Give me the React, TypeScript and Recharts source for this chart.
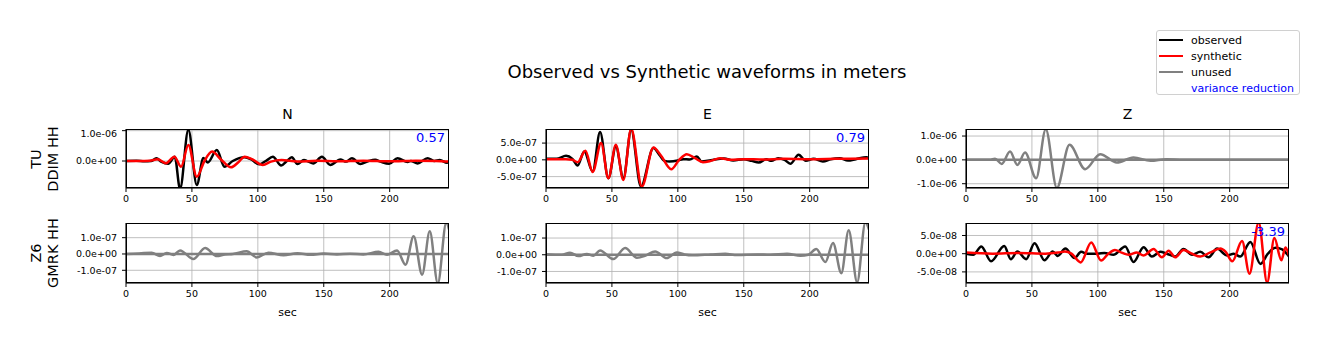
import React from 'react';
import { LineChart, Line, XAxis, YAxis, CartesianGrid } from 'recharts';

type Pt = [number, number];

// all amplitudes in units of 1e-8 m, time in sec
const X_TICKS = [0, 50, 100, 150, 200];
const COMPONENTS = ['N', 'E', 'Z'];
const STATIONS = ['TU\nDDIM HH', 'Z6\nGMRK HH'];

const tuN_obs: Pt[] = [
  [0, 0], [8, 0.5], [14, -1], [19, 0], [23, 9], [27, -3], [32, -9], [37, 14], [41, -92],
  [47.3, 103], [53.7, -79], [58.7, 10], [62, -5], [68.9, 36], [74.7, -19], [81, 0], [90, 12],
  [95, 5], [101, -11], [106, 0], [111.4, 14], [117.7, -15], [122, 0], [125.8, 12], [130, -10],
  [135, 3], [142, -8], [148.6, 14], [155, -13], [162.6, 5], [167, -2], [171.4, 9], [177.7, -10],
  [184, 0], [189, 4], [193, -2], [199.6, -9], [206, 9], [213.6, -3], [216, 0], [221.2, -8],
  [228.8, 9], [234, 0], [238, 3], [243.5, -6], [245, -4],
];
const tuN_syn: Pt[] = [
  [0, 0], [10, 0], [18, 1], [24, 6], [30.4, -7], [36.7, 14], [41.8, -19], [47.3, 53], [53.7, -52],
  [59.5, 0], [65.3, 31], [72, 5], [79.7, -21], [85, -5], [90, 14], [96, 5], [103.8, -13], [110, -2],
  [118, 3], [130, -2], [145, 1], [160, -1], [180, 1], [200, -1], [220, 1], [235, 0], [245, -2],
];
const tuE_obs: Pt[] = [
  [0, 3], [8, 3], [15.2, 12], [20, 3], [24, -17], [29, 25], [35.4, -35], [41, 83], [47.3, -55],
  [53, 40], [58.7, -55], [64.6, 90], [72, -80], [81.5, 35], [86, 15], [90, -3], [93.7, -5],
  [100, -2], [104, 2], [109, 1], [114.4, 10], [118, -5], [125, -1], [135, 4], [142, -2], [150, 2],
  [156, -3], [161.4, -8], [167, 2], [171, -3], [176, 5], [181, 0], [185.3, -12], [191.6, 15],
  [197, -3], [203, 3], [210, -5], [216, 2], [222.8, 5], [229, -2], [235, 2], [243, 8], [245, 6],
];
const tuE_syn: Pt[] = [
  [0, 2], [15, 2], [20, 0], [24, -7], [29.9, 27], [35.4, -36], [41.8, 50], [47.3, -55], [53, 45],
  [58.7, -60], [64.6, 93], [72.7, -80], [81.5, 37], [87.3, 12], [95, -28], [101, 0], [106.8, 17],
  [113, 5], [119, -7], [125, -3], [132, 5], [140, 0], [150, 2], [165, 1], [180, 3], [200, 2],
  [220, 3], [245, 4],
];
const tuZ_unused: Pt[] = [
  [0, 0], [18.2, 0], [22, 5], [27.1, -17], [33.4, 35], [39, -21], [44.8, 31], [53.2, -77],
  [60.5, 128], [68.9, -117], [78.5, 63], [90.4, -39], [101.8, 24], [114.4, -11], [127, 10],
  [140, -4], [152, 3], [165, 0], [180, 1], [200, 0], [245, 0],
];
const z6N_unused: Pt[] = [
  [0, 0], [10, 0.3], [19.5, 0.8], [25.8, -1.2], [30.9, 0.6], [36, -0.6], [41, 2.2], [51.1, -3.1],
  [60, 3.7], [68.9, -1.3], [75, -0.3], [81, 0], [91.6, 1.6], [99.2, -2.1], [108, 0.8],
  [119.5, -0.8], [130, 0.5], [140, -0.5], [150, 0.3], [160, -0.3], [170, 0.2], [180, -0.3],
  [191.6, 1.4], [198, -0.5], [205.6, 2.2], [212, -6.6], [218.2, 10.8], [224.6, -12.7],
  [230.4, 13.9], [236.5, -18], [243, 19.5], [245, 15],
];
const z6E_unused: Pt[] = [
  [0, 0.3], [12, 0], [18.2, 1.2], [24.6, -0.8], [31, 0.5], [36, -0.6], [41, 2.6], [51.1, -2.6],
  [60, 4], [69, -1.8], [75.5, -0.5], [82.8, 2], [91.6, -2], [99.2, 1.4], [105, 0.2], [111, -0.3],
  [125, 0.2], [136, 0.6], [145, -0.2], [160, 0.2], [170, 0], [182.8, 0.6], [193, -0.6], [199, 0],
  [205, 3.4], [211.9, -4.4], [217.7, 7], [224, -11], [229.6, 14.6], [236, -16.4], [242.3, 19.5],
  [245, 15],
];
const z6Z_obs: Pt[] = [
  [0, 0], [5.6, -0.3], [11.6, 2], [19, -2.1], [29, 2.1], [34, -1.5], [39, 0.6], [45.6, -1.5],
  [52, 2.9], [59.5, -1.8], [65.8, 0.6], [69.6, -0.6], [75.4, 1.4], [82.3, -1.2], [87.3, 0.5],
  [92, 0], [100, 0], [105, 0.2], [111.9, -0.3], [120.8, 2], [127.1, -2.3], [134.7, 1.8],
  [141, -0.8], [147.3, 0.5], [152.3, 0], [158.7, -0.8], [165, 1.3], [171.4, -0.3], [177.7, 0.5],
  [184, -1], [190.4, 1.4], [198, -0.5], [203, 0], [208, -0.8], [215.7, 3.2], [223.3, -2.8],
  [229, 0], [234.7, 1.6], [239.8, 1.2], [245, -0.8],
];
const z6Z_syn: Pt[] = [
  [0, 0.3], [20, 0], [40, 0.2], [60, 0], [70, 0.3], [75, 0.6], [80, 0], [87, -2.4], [95, 3.1],
  [102.5, -1.9], [108, 0], [113, 1], [118, 0.3], [123.3, -0.3], [129.6, 0.3], [134.7, -0.5],
  [142.3, 1.3], [148.6, -1], [153.7, 0.8], [158.7, -1], [165, 1], [171.4, 0], [177.7, -0.8],
  [185, 0.3], [192.9, 1.4], [197, 0.5], [202, -2.1], [209.4, 3.5], [215, -5.5], [222, 8.6],
  [228.4, -7.9], [233.9, 4.3], [239.2, -1.8], [242.3, 1.7], [245, -0.5],
];
const zeroTrace: Pt[] = [[0, 0], [245, 0]];

const VR = ['0.57', '0.79', '', '', '', '-3.39'];

const OBS = '#000000';
const SYN = '#ff0000';
const UNUSED = '#808080';

type Series = { pts: Pt[]; color: string };
type Panel = { row: number; col: number; series: Series[]; domain: [number, number]; ticks: number[]; vr: string };

const panels: Panel[] = [
  { row: 0, col: 0, series: [{ pts: tuN_obs, color: OBS }, { pts: tuN_syn, color: SYN }], domain: [-89, 105.5], ticks: [0, 100], vr: VR[0] },
  { row: 0, col: 1, series: [{ pts: tuE_obs, color: OBS }, { pts: tuE_syn, color: SYN }], domain: [-84, 92], ticks: [-50, 0, 50], vr: VR[1] },
  { row: 0, col: 2, series: [{ pts: tuZ_unused, color: UNUSED }, { pts: zeroTrace, color: UNUSED }], domain: [-118, 129.5], ticks: [-100, 0, 100], vr: VR[2] },
  { row: 1, col: 0, series: [{ pts: z6N_unused, color: UNUSED }, { pts: zeroTrace, color: UNUSED }], domain: [-17.8, 19], ticks: [-10, 0, 10], vr: VR[3] },
  { row: 1, col: 1, series: [{ pts: z6E_unused, color: UNUSED }, { pts: zeroTrace, color: UNUSED }], domain: [-16.9, 19], ticks: [-10, 0, 10], vr: VR[4] },
  { row: 1, col: 2, series: [{ pts: z6Z_obs, color: OBS }, { pts: z6Z_syn, color: SYN }], domain: [-8.05, 8.43], ticks: [-5, 0, 5], vr: VR[5] },
];

const COL_LEFT = [126, 546, 966];
const ROW_TOP = [129, 223];
const ROW_H = [59, 60];
const PW = 323;
const YW = 70;
const XH = 22;

const sci = (v: number) => {
  if (v === 0) return '0.0e+00';
  const real = v * 1e-8;
  const e = Math.floor(Math.log10(Math.abs(real)) + 1e-9);
  const m = real / Math.pow(10, e);
  return `${m.toFixed(1)}e${e < 0 ? '-' : '+'}${String(Math.abs(e)).padStart(2, '0')}`;
};

const toRows = (pts: Pt[]) => pts.map(([t, v]) => ({ t, v }));

const tickStyle = { fontSize: 9.5, fill: '#000' };

function Subplot({ p }: { p: Panel }) {
  const left = COL_LEFT[p.col];
  const top = ROW_TOP[p.row];
  const h = ROW_H[p.row];
  return (
    <>
      <div style={{ position: 'absolute', left: left - YW, top }}>
        <LineChart width={YW + PW} height={h + XH} margin={{ top: 0, right: 0, bottom: 0, left: 0 }}>
          <CartesianGrid stroke="#b0b0b0" strokeWidth={0.8} />
          <XAxis
            dataKey="t"
            type="number"
            domain={[0, 245]}
            ticks={X_TICKS}
            allowDataOverflow
            height={XH}
            tickSize={4}
            tickMargin={3}
            tick={tickStyle}
            tickLine={{ stroke: '#000' }}
            axisLine={{ stroke: '#000' }}
          />
          <YAxis
            type="number"
            domain={p.domain}
            ticks={p.ticks}
            allowDataOverflow
            width={YW}
            tickSize={4}
            tickMargin={5}
            tick={tickStyle}
            tickFormatter={sci}
            tickLine={{ stroke: '#000' }}
            axisLine={{ stroke: '#000' }}
          />
          {p.series.map((s, i) => (
            <Line
              key={i}
              data={toRows(s.pts)}
              dataKey="v"
              type="monotone"
              stroke={s.color}
              strokeWidth={2.5}
              dot={false}
              isAnimationActive={false}
            />
          ))}
        </LineChart>
      </div>
      <div
        style={{
          position: 'absolute', left, top, width: PW, height: h,
          border: '1px solid #000', boxSizing: 'border-box', pointerEvents: 'none',
        }}
      />
      {p.vr && (
        <div style={{ position: 'absolute', right: 1329 - (left + PW - 4), top: top + 1, fontSize: 13, color: '#0000ff' }}>
          {p.vr}
        </div>
      )}
    </>
  );
}

export default function App() {
  return (
    <div
      style={{
        position: 'absolute', left: 0, top: 0, width: 1329, height: 351,
        background: '#fff', fontFamily: '"DejaVu Sans", sans-serif', color: '#000',
      }}
    >
      <div style={{ position: 'absolute', left: 0, width: 1414, top: 61, fontSize: 18, textAlign: 'center' }}>
        Observed vs Synthetic waveforms in meters
      </div>

      {COMPONENTS.map((c, i) => (
        <div key={c} style={{ position: 'absolute', left: COL_LEFT[i], width: PW, top: 106, fontSize: 14, textAlign: 'center' }}>
          {c}
        </div>
      ))}

      {STATIONS.map((s, r) => (
        <div
          key={s}
          style={{
            position: 'absolute', left: 45, top: ROW_TOP[r] + ROW_H[r] / 2,
            transform: 'translate(-50%, -50%) rotate(-90deg)', whiteSpace: 'pre',
            textAlign: 'center', fontSize: 14.5, lineHeight: '17px',
          }}
        >
          {s}
        </div>
      ))}

      {panels.map((p, i) => (
        <Subplot key={i} p={p} />
      ))}

      {COMPONENTS.map((c, i) => (
        <div key={c} style={{ position: 'absolute', left: COL_LEFT[i], width: PW, top: 306, fontSize: 11, textAlign: 'center' }}>
          sec
        </div>
      ))}

      <div
        style={{
          position: 'absolute', left: 1156, top: 30, width: 144, height: 65, boxSizing: 'border-box',
          border: '1px solid #d0d0d0', borderRadius: 3, fontSize: 11,
        }}
      >
        {[
          { label: 'observed', color: OBS },
          { label: 'synthetic', color: SYN },
          { label: 'unused', color: UNUSED },
          { label: 'variance reduction', color: '' },
        ].map((e, i) => (
          <div key={e.label} style={{ position: 'absolute', left: 2, top: 1 + i * 16, height: 16, display: 'flex', alignItems: 'center' }}>
            <svg width={24} height={16} style={{ marginRight: 8 }}>
              {e.color && <line x1={0} x2={24} y1={8} y2={8} stroke={e.color} strokeWidth={2} />}
            </svg>
            <span style={{ color: e.color ? '#000' : '#0000ff' }}>{e.label}</span>
          </div>
        ))}
      </div>
    </div>
  );
}
